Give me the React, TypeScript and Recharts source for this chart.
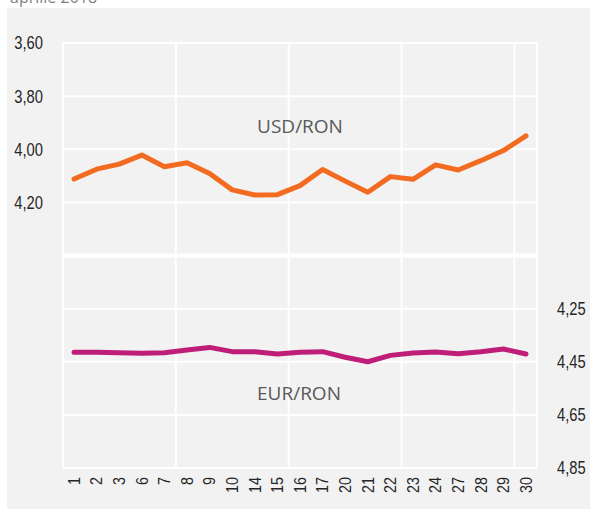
import React from 'react';
import { LineChart, Line, XAxis, YAxis, CartesianGrid, ReferenceLine } from 'recharts';

const days = ['1', '2', '3', '6', '7', '8', '9', '10', '14', '15', '16', '17', '20', '21', '22', '23', '24', '27', '28', '29', '30'];
const usdRon = [4.112, 4.075, 4.056, 4.022, 4.066, 4.051, 4.091, 4.153, 4.172, 4.171, 4.137, 4.076, 4.12, 4.162, 4.103, 4.113, 4.059, 4.078, 4.043, 4.005, 3.95];
const eurRon = [4.414, 4.414, 4.416, 4.418, 4.416, 4.406, 4.396, 4.412, 4.412, 4.421, 4.414, 4.412, 4.433, 4.45, 4.426, 4.417, 4.413, 4.42, 4.412, 4.402, 4.421];
const leftTicks = [3.6, 3.8, 4.0, 4.2, 4.4, 4.6, 4.8, 5.0, 5.2];
const leftLabelMax = 4.2;
const rightTicks = [4.25, 4.45, 4.65, 4.85];
const gridTicks = [-0.5, 4.5, 9.5, 14.5, 19.5];

const data = days.map((d, i) => ({ day: d, idx: i, usd: usdRon[i], eur: eurRon[i] }));

const fmt = (v: number) => v.toFixed(2).replace('.', ',');
const sansFont = '"Liberation Sans", Arial, sans-serif';

const XTick = (props: any) => {
  const { x, y, payload } = props;
  return (
    <text
      transform={`translate(${x}, ${y}) rotate(-90) scale(0.9, 1)`}
      x={0}
      y={0}
      textAnchor="end"
      dy="0.36em"
      fontSize={16}
      fontFamily={sansFont}
      fill="#262626"
    >
      {payload.value}
    </text>
  );
};

const YTick = (props: any) => {
  const { x, y, payload, anchor, maxLabel } = props;
  const v = Number(payload.value);
  if (maxLabel !== undefined && v > maxLabel + 1e-9) return <g />;
  return (
    <text
      transform={`translate(${x}, ${y}) scale(0.82, 1)`}
      x={0}
      y={0}
      textAnchor={anchor}
      dy="0.36em"
      fontSize={18}
      fontFamily={sansFont}
      fill="#262626"
    >
      {fmt(v)}
    </text>
  );
};

export default function App() {
  return (
    <div style={{ position: 'absolute', left: 0, top: 0, width: 590, height: 509, background: '#ffffff', overflow: 'hidden' }}>
      <div style={{ position: 'absolute', left: 7, top: 8, right: 0, bottom: 0, background: '#f2f2f2' }} />
      <div style={{ position: 'absolute', left: 0, top: 0 }}>
        <LineChart width={590} height={509} data={data} margin={{ top: 43, right: 0, bottom: 0, left: 0 }}>
          <XAxis
            xAxisId="grid"
            dataKey="idx"
            type="number"
            domain={[-0.5, 20.5]}
            ticks={gridTicks}
            hide
          />
          <XAxis
            xAxisId="cat"
            dataKey="day"
            type="category"
            interval={0}
            padding={{ left: 11, right: 11 }}
            axisLine={false}
            tickLine={false}
            tickSize={0}
            tickMargin={9}
            height={41}
            tick={<XTick />}
          />
          <YAxis
            yAxisId="left"
            width={63}
            reversed
            domain={[3.6, 5.2]}
            ticks={leftTicks}
            interval={0}
            axisLine={false}
            tickLine={false}
            tickSize={0}
            tickMargin={20}
            tick={<YTick anchor="end" maxLabel={leftLabelMax} />}
          />
          <YAxis
            yAxisId="right"
            orientation="right"
            width={53}
            reversed
            domain={[3.25, 4.85]}
            ticks={rightTicks}
            interval={0}
            axisLine={false}
            tickLine={false}
            tickSize={0}
            tickMargin={20}
            tick={<YTick anchor="start" />}
          />
          <CartesianGrid xAxisId="grid" yAxisId="left" stroke="#ffffff" strokeWidth={2} />
          <ReferenceLine xAxisId="grid" yAxisId="left" y={4.4} stroke="#ffffff" strokeWidth={4} />
          <Line
            xAxisId="cat"
            yAxisId="left"
            dataKey="usd"
            stroke="#F26B21"
            strokeWidth={5}
            strokeLinecap="round"
            strokeLinejoin="round"
            dot={false}
            activeDot={false}
            isAnimationActive={false}
          />
          <Line
            xAxisId="cat"
            yAxisId="right"
            dataKey="eur"
            stroke="#BE1E78"
            strokeWidth={5}
            strokeLinecap="round"
            strokeLinejoin="round"
            dot={false}
            activeDot={false}
            isAnimationActive={false}
          />
        </LineChart>
      </div>
      <svg width={590} height={509} style={{ position: 'absolute', left: 0, top: 0, pointerEvents: 'none' }}>
        <text x={10} y={3} fontSize={16} fontFamily='"Open Sans", sans-serif' fill="#808080">aprilie 2018</text>
        <text x={300} y={133} textAnchor="middle" fontSize={19} fontFamily='"Open Sans", sans-serif' fill="#595959">USD/RON</text>
        <text x={299} y={400} textAnchor="middle" fontSize={19} fontFamily='"Open Sans", sans-serif' fill="#595959">EUR/RON</text>
      </svg>
    </div>
  );
}
